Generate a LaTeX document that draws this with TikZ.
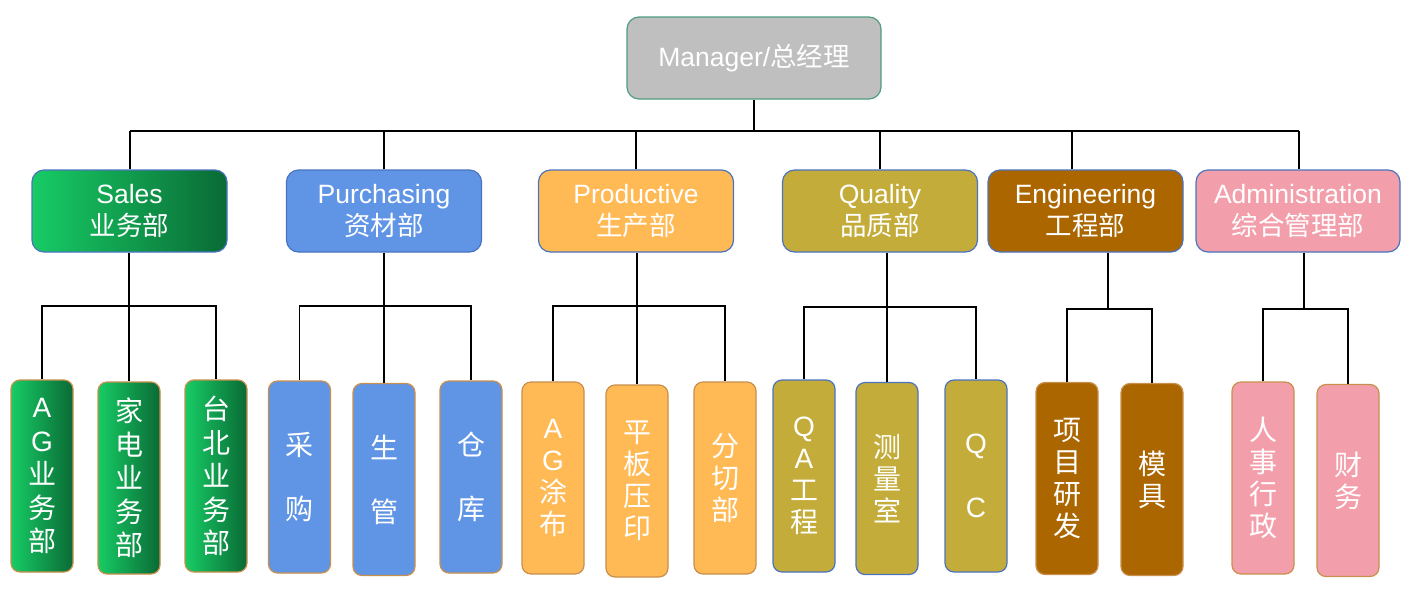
\documentclass[tikz,border=0pt]{standalone}
\usepackage{fontspec}
\setmainfont{Liberation Sans}
\newfontfamily\cjk{Noto Sans CJK SC}
\newcommand\zh[1]{{\cjk #1}}
\definecolor{mgrF}{HTML}{BFBFBF}
\definecolor{mgrB}{HTML}{4E9E7E}
\definecolor{deptB}{HTML}{4A74C0}
\definecolor{unitB}{HTML}{C8904C}
\definecolor{salesL}{HTML}{17CC65}
\definecolor{salesM}{HTML}{12B458}
\definecolor{salesR}{HTML}{0A6A35}
\definecolor{purF}{HTML}{6095E5}
\definecolor{proF}{HTML}{FFBA55}
\definecolor{quaF}{HTML}{C4AC3A}
\definecolor{engF}{HTML}{AB6600}
\definecolor{admF}{HTML}{F39FAB}
\begin{document}
\begin{tikzpicture}[x=1pt,y=-1pt,
  mgrbox/.style={draw=mgrB, fill=mgrF, line width=1.2pt, rounded corners=12pt,
    minimum width=254pt, minimum height=82pt, inner sep=0pt, text=white,
    font=\fontsize{26.5}{32}\selectfont},
  deptbox/.style={draw=deptB, line width=1.2pt, rounded corners=12pt,
    minimum width=195pt, minimum height=82pt, inner sep=0pt, text=white,
    align=center, font=\fontsize{26.5}{32}\selectfont},
  unitbox/.style={draw=unitB, line width=1.2pt, rounded corners=9pt,
    minimum width=62pt, minimum height=192pt, inner sep=0pt, text=white,
    align=center, font=\fontsize{28}{32}\selectfont},
  salesfill/.style={left color=salesL, middle color=salesM, right color=salesR},
  linkline/.style={line width=1.9pt, black}]
\fill[white] (0,0) rectangle (1409,598);
\useasboundingbox (0,0) rectangle (1409,598);

% manager
\node[mgrbox] (mgr) at (754,58) {Manager/\zh{总经理}};

% departments
\node[deptbox, salesfill] (sales) at (129.5,211) {Sales\\\zh{业务部}};
\node[deptbox, fill=purF] (pur) at (384,211) {Purchasing\\\zh{资材部}};
\node[deptbox, fill=proF] (pro) at (636,211) {Productive\\\zh{生产部}};
\node[deptbox, fill=quaF] (qua) at (880,211) {Quality\\\zh{品质部}};
\node[deptbox, fill=engF] (eng) at (1085.5,211) {Engineering\\\zh{工程部}};
\node[deptbox, fill=admF, minimum width=204pt] (adm) at (1298,211) {Administration\\\zh{综合管理部}};

% units
\node[unitbox, salesfill, font=\fontsize{28}{33.5}\selectfont] (s1) at (42,476) {A\\G\\\zh{业}\\\zh{务}\\\zh{部}};
\node[unitbox, salesfill, font=\fontsize{28}{33.5}\selectfont] (s2) at (129,478) {\zh{家}\\\zh{电}\\\zh{业}\\\zh{务}\\\zh{部}};
\node[unitbox, salesfill, font=\fontsize{28}{33.5}\selectfont] (s3) at (216,476) {\zh{台}\\\zh{北}\\\zh{业}\\\zh{务}\\\zh{部}};

\node[unitbox, fill=purF] (p1) at (299.5,477) {\zh{采}\\[32pt]\zh{购}};
\node[unitbox, fill=purF] (p2) at (384,479.5) {\zh{生}\\[32pt]\zh{管}};
\node[unitbox, fill=purF] (p3) at (471,477) {\zh{仓}\\[32pt]\zh{库}};

\node[unitbox, fill=proF] (r1) at (553,478) {A\\G\\\zh{涂}\\\zh{布}};
\node[unitbox, fill=proF] (r2) at (637,481) {\zh{平}\\\zh{板}\\\zh{压}\\\zh{印}};
\node[unitbox, fill=proF] (r3) at (725,478) {\zh{分}\\\zh{切}\\\zh{部}};

\node[unitbox, fill=quaF, draw=deptB] (q1) at (804,476) {Q\\A\\\zh{工}\\\zh{程}};
\node[unitbox, fill=quaF, draw=deptB] (q2) at (887,478.5) {\zh{测}\\\zh{量}\\\zh{室}};
\node[unitbox, fill=quaF, draw=deptB] (q3) at (976,476) {Q\\[32pt]C};

\node[unitbox, fill=engF] (e1) at (1067,478.5) {\zh{项}\\\zh{目}\\\zh{研}\\\zh{发}};
\node[unitbox, fill=engF] (e2) at (1152,479.5) {\zh{模}\\\zh{具}};

\node[unitbox, fill=admF] (a1) at (1263,478) {\zh{人}\\\zh{事}\\\zh{行}\\\zh{政}};
\node[unitbox, fill=admF] (a2) at (1348,480.5) {\zh{财}\\\zh{务}};

% top bus
\coordinate (busL) at (130,131);
\coordinate (busR) at (1299,131);
\draw[linkline] (busL) -- (busR);
\draw[linkline] (mgr.south) -- (mgr.south |- busL);
\draw[linkline] (sales.north -| busL) -- (busL);
\draw[linkline] (pur.north) -- (pur.north |- busL);
\draw[linkline] (pro.north) -- (pro.north |- busL);
\draw[linkline] (qua.north) -- (qua.north |- busL);
\draw[linkline] ([xshift=-13.5pt]eng.north) -- ([xshift=-13.5pt]eng.north |- busL);
\draw[linkline] (adm.north -| busR) -- (busR);

% sales group
\coordinate (sJ) at (129,306);
\draw[linkline] (sales.south -| sJ) -- (s2.north);
\draw[linkline] (s1.north) |- (sJ) -| (s3.north);
% purchasing group
\coordinate (pJ) at (384,306);
\draw[linkline] (pur.south -| pJ) -- (p2.north);
\draw[linkline] (p1.north) |- (pJ) -| (p3.north);
% productive group
\coordinate (rJ) at (637,306);
\draw[linkline] (pro.south -| rJ) -- (r2.north);
\draw[linkline] (r1.north) |- (rJ) -| (r3.north);
% quality group
\coordinate (qJ) at (887,307);
\draw[linkline] (qua.south -| qJ) -- (q2.north);
\draw[linkline] (q1.north) |- (qJ) -| (q3.north);
% engineering group
\coordinate (eJ) at (1108,309);
\draw[linkline] (eng.south -| eJ) -- (eJ);
\draw[linkline] (e1.north) |- (eJ) -| (e2.north);
% administration group
\coordinate (aJ) at (1304,309);
\draw[linkline] (adm.south -| aJ) -- (aJ);
\draw[linkline] (a1.north) |- (aJ) -| (a2.north);
\end{tikzpicture}
\end{document}
